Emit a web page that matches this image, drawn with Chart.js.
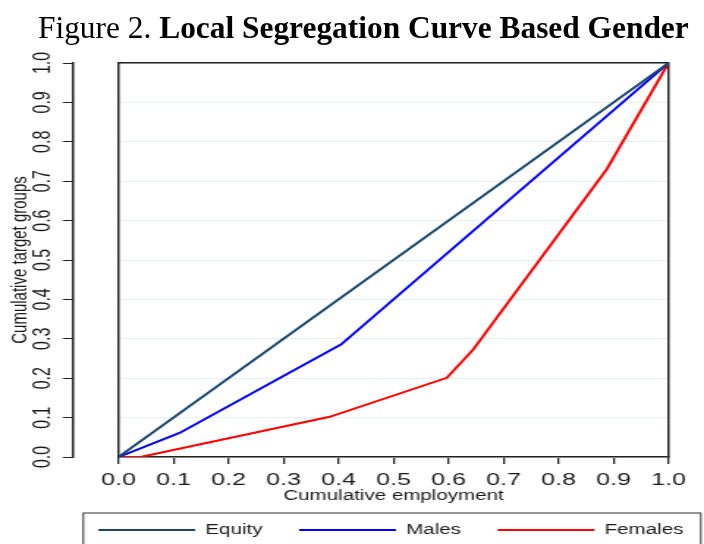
<!DOCTYPE html>
<html>
<head>
<meta charset="utf-8">
<script src="https://cdn.jsdelivr.net/npm/chart.js@4"></script>
<style>
  body { margin: 0; background: #fff; overflow: hidden; }
  #wrap { position: relative; width: 704px; height: 544px; }
  #grafico { position: absolute; left: 0; top: 0; }
  #titulo {
    position: absolute; left: 38px; top: 12px;
    font-family: 'Liberation Serif', 'Times New Roman', serif;
    font-size: 31.4px; line-height: 31px; white-space: nowrap; color: #000;
  }
</style>
</head>
<body>
<div id="wrap">
  <!-- the original figure is stretched sideways, so the canvas is drawn narrow and widened by css -->
  <canvas id="grafico" width="480" height="544" style="width: 704px; height: 544px;"></canvas>
  <div id="titulo">Figure 2. <b>Local Segregation Curve Based Gender</b></div>
</div>
<script>
// datos
const equityX = [0, 1];
const equityY = [0, 1];
const malesX = [0, 0.111, 0.405, 1];
const malesY = [0, 0.061, 0.286, 1];
const femalesX = [0, 0.04, 0.384, 0.597, 0.645, 0.888, 1];
const femalesY = [0, 0, 0.102, 0.201, 0.273, 0.731, 1];

const tickValues = [0, 0.1, 0.2, 0.3, 0.4, 0.5, 0.6, 0.7, 0.8, 0.9, 1];
const tickLabels = ['0.0', '0.1', '0.2', '0.3', '0.4', '0.5', '0.6', '0.7', '0.8', '0.9', '1.0'];

const dark = '#1a1a1a';
const sans = 'Liberation Sans, Arial, sans-serif';

function puntos(xs, ys) {
    return xs.map(function (x, i) { return { x: x, y: ys[i] }; });
}

function fijarTicks(scale) {
    scale.ticks = tickValues.map(function (v) { return { value: v }; });
}

function etiqueta(value, index) {
    return tickLabels[index];
}

// caja alrededor de la leyenda
const cajaLeyenda = {
    id: 'cajaLeyenda',
    afterDraw: function (chart) {
        const ctx = chart.ctx;
        const area = chart.chartArea;
        const ley = chart.legend;
        ctx.save();
        ctx.strokeStyle = '#333';
        ctx.lineWidth = 1;
        ctx.strokeRect(area.left - 24, ley.top + 15, area.right - area.left + 46, 60);
        ctx.restore();
    }
};

const ctx = document.getElementById('grafico').getContext('2d');
const myChart = new Chart(ctx, {
    type: 'line',
    data: {
        datasets: [{
            label: 'Equity',
            data: puntos(equityX, equityY),
            borderColor: '#1a476f',
            backgroundColor: '#1a476f',
            borderWidth: 2,
            pointRadius: 0
        }, {
            label: 'Males',
            data: puntos(malesX, malesY),
            borderColor: '#0000ff',
            backgroundColor: '#0000ff',
            borderWidth: 2,
            pointRadius: 0
        }, {
            label: 'Females',
            data: puntos(femalesX, femalesY),
            borderColor: '#ff0000',
            backgroundColor: '#ff0000',
            borderWidth: 2,
            pointRadius: 0
        }]
    },
    options: {
        responsive: false,
        animation: false,
        events: [],
        layout: { padding: { top: 63, left: 0, right: -53, bottom: -3 } },
        scales: {
            x: {
                type: 'linear',
                position: 'bottom',
                min: 0,
                max: 1,
                afterBuildTicks: fijarTicks,
                afterFit: function (scale) { scale.height = 41; },
                grid: { drawOnChartArea: false, tickLength: 7, color: '#222', lineWidth: 1.3 },
                border: { color: '#222', width: 1.5 },
                ticks: {
                    callback: etiqueta,
                    autoSkip: false,
                    minRotation: 0,
                    maxRotation: 0,
                    padding: 6,
                    color: dark,
                    font: { family: sans, size: 17 }
                },
                title: {
                    display: true,
                    text: 'Cumulative employment',
                    color: dark,
                    font: { family: sans, size: 14 },
                    padding: { top: 0, bottom: -7 }
                }
            },
            xTop: {
                type: 'linear',
                position: 'top',
                min: 0,
                max: 1,
                afterFit: function (scale) { scale.height = 0; },
                ticks: { display: false },
                grid: { display: false },
                border: { color: '#222', width: 1.5 }
            },
            yLabels: {
                type: 'linear',
                position: 'left',
                weight: 1,
                min: 0,
                max: 1,
                afterBuildTicks: fijarTicks,
                afterFit: function (scale) { scale.width = 49.8; },
                grid: { drawOnChartArea: false, tickLength: 7, color: '#222', lineWidth: 1 },
                border: { color: '#222', width: 1.5 },
                ticks: {
                    callback: etiqueta,
                    autoSkip: false,
                    minRotation: 90,
                    maxRotation: 90,
                    crossAlign: 'center',
                    padding: 2,
                    color: dark,
                    font: { family: sans, size: 16 }
                },
                title: {
                    display: true,
                    text: 'Cumulative target groups',
                    color: dark,
                    font: { family: sans, size: 15 },
                    padding: { top: 5, bottom: 0 }
                }
            },
            y: {
                type: 'linear',
                position: 'left',
                weight: 0,
                min: 0,
                max: 1,
                afterBuildTicks: fijarTicks,
                afterFit: function (scale) { scale.width = 31; },
                ticks: { display: false },
                grid: { color: '#e6eff1', lineWidth: 1, drawTicks: false },
                border: { color: '#222', width: 1.5 }
            },
            yRight: {
                type: 'linear',
                position: 'right',
                min: 0,
                max: 1,
                afterFit: function (scale) { scale.width = 77.2; },
                ticks: { display: false },
                grid: { display: false },
                border: { color: '#222', width: 1.5 }
            }
        },
        plugins: {
            tooltip: { enabled: false },
            legend: {
                position: 'bottom',
                align: 'center',
                labels: {
                    usePointStyle: true,
                    pointStyle: 'line',
                    pointStyleWidth: 66,
                    padding: 25,
                    color: dark,
                    font: { family: sans, size: 14 }
                }
            }
        }
    },
    plugins: [cajaLeyenda]
});
</script>
</body>
</html>
